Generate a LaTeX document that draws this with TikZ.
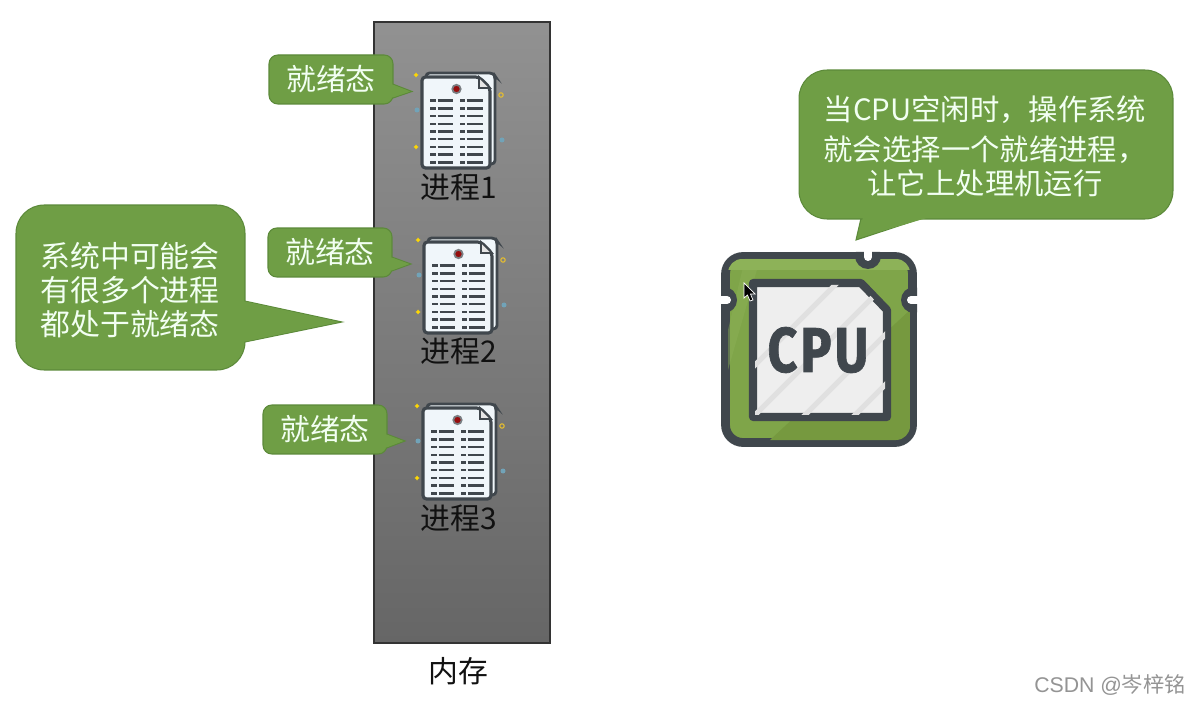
\documentclass[tikz,border=0pt]{standalone}
\usepackage{fontspec}
\setmainfont{Noto Sans CJK SC}
\newfontfamily\chipfont[LetterSpace=6,FakeBold=1.2]{Fira Sans}
\newfontfamily\markfont{Liberation Sans}
\usetikzlibrary{positioning,calc}
\definecolor{BubbleGreen}{HTML}{6F9E45}
\definecolor{BubbleEdge}{HTML}{5C8A3A}
\definecolor{IconDark}{HTML}{40474D}
\definecolor{ChipGreen}{HTML}{7FA549}
\definecolor{ChipShade}{HTML}{76993F}
\definecolor{ChipLight}{HTML}{8DB258}
\definecolor{ChipFace}{HTML}{EEEEEE}
\definecolor{ChipStripe}{HTML}{E0E0E0}
\definecolor{SheetBlue}{HTML}{F0F6FA}
\definecolor{LabelDark}{HTML}{111111}
\tikzset{
bubble/.style={draw=BubbleEdge, line width=0.6pt, fill=BubbleGreen, rounded corners=5pt, text=white!95!green, font=\fontsize{17}{20}\selectfont, align=center, inner sep=0pt},
bigbubble/.style={bubble, rounded corners=16pt},
tipedge/.style={draw=BubbleEdge, line width=0.6pt, fill=BubbleGreen},
tipfill/.style={fill=BubbleGreen},
proclabel/.style={text=LabelDark, font=\fontsize{17}{20}\selectfont, inner sep=0pt},
membar/.style={draw=black!80, line width=0.7pt, top color=black!43, bottom color=black!60, minimum width=3.52cm, minimum height=12.42cm, inner sep=0pt},
docicon/.pic={
  \fill[yellow!75!orange] (-6,4.5) -- (-5,3) -- (-3.5,2) -- (-5,1) -- (-6,-0.5) -- (-7,1) -- (-8.5,2) -- (-7,3) -- cycle;
  \fill[yellow!75!orange] (-6,76.5) -- (-5,75) -- (-3.5,74) -- (-5,73) -- (-6,71.5) -- (-7,73) -- (-8.5,74) -- (-7,75) -- cycle;
  \draw[yellow!60!orange!80!gray, line width=0.6pt] (79,22) circle (2.2);
  \fill[cyan!40!gray] (-5,37) circle (2.5);
  \fill[cyan!40!gray] (80,67) circle (2.5);
  \draw[IconDark, line width=1.6pt, fill=SheetBlue, rounded corners=2pt] (4,0) -- (71,0) -- (73,3) -- (73,91) -- (4,91) -- cycle;
  \draw[IconDark, line width=1.8pt, fill=SheetBlue, rounded corners=2pt] (0,4) -- (57,4) -- (68,15) -- (68,95) -- (0,95) -- cycle;
  \draw[IconDark, line width=0.9pt, fill=white!80!gray] (57,4) -- (57,15) -- (68,15) -- cycle;
  \draw[IconDark!70, line width=1pt, fill=red!60!black!90!gray] (34.5,16) circle (4.2);
  \foreach \row in {0,...,8} {
    \draw[IconDark, line width=1.4pt] (8,27.7+7.7*\row) -- (14,27.7+7.7*\row) (15.5,27.7+7.7*\row) -- (31,27.7+7.7*\row)
      (38,27.7+7.7*\row) -- (43,27.7+7.7*\row) (44.5,27.7+7.7*\row) -- (61,27.7+7.7*\row);
  }
}
}
\begin{document}
\begin{tikzpicture}[x=0.02cm, y=-0.02cm]
\useasboundingbox[fill=white] (0,0) rectangle (1189,705);
% memory
\node[membar] (mem) at (462,332.5) {};
\node[proclabel] (memlabel) at (458,671) {内存};
% processes
\pic at (422,73) {docicon};
\pic at (424,238) {docicon};
\pic at (423,404) {docicon};
\node[proclabel] (proc1) at (458.5,187) {进程1};
\node[proclabel] (proc2) at (458.5,351) {进程2};
\node[proclabel] (proc3) at (458.5,518) {进程3};
% small bubbles
\draw[tipedge] (390,83) -- (412,91.5) -- (390,99) -- cycle;
\draw[tipedge] (389,256) -- (411,264) -- (389,272) -- cycle;
\draw[tipedge] (384,433) -- (405,441) -- (384,449) -- cycle;
\node[bubble, minimum width=2.48cm, minimum height=0.98cm] (ready1) at (331,79.5) {就绪态};
\node[bubble, minimum width=2.48cm, minimum height=0.98cm] (ready2) at (330,252.5) {就绪态};
\node[bubble, minimum width=2.48cm, minimum height=0.98cm] (ready3) at (325,429.5) {就绪态};
\fill[tipfill] (391,84) -- (410,91.5) -- (391,98) -- cycle;
\fill[tipfill] (390,257) -- (409,264) -- (390,271) -- cycle;
\fill[tipfill] (385,434) -- (403,441) -- (385,448) -- cycle;
% big bubbles
\draw[tipedge] (240,300) -- (342,322) -- (240,343) -- cycle;
\node[bigbubble, minimum width=4.58cm, minimum height=3.3cm] (manynote) at (130.5,287.5) {};
\fill[tipfill] (243,301) -- (339,322) -- (243,342) -- cycle;
\node[bubble, draw=none, fill=none, rounded corners=0pt] (manytext) at (130,290) {系统中可能会\\[-0.5pt]有很多个进程\\[-0.5pt]都处于就绪态};
\draw[tipedge] (862,214) -- (856,240) -- (935,214) -- cycle;
\node[bigbubble, minimum width=7.48cm, minimum height=2.98cm] (cpunote) at (986,144.5) {};
\fill[tipfill] (863,217) -- (858,238) -- (930,217) -- cycle;
\node[bubble, draw=none, fill=none, rounded corners=0pt, font=\fontsize{16.7}{20}\selectfont] (cputext) at (985,146) {当CPU空闲时，操作系统\\[3pt]就会选择一个就绪进程，\\[-1pt]让它上处理机运行};
% cpu chip
\draw[IconDark, line width=5pt, fill=ChipGreen, rounded corners=10pt] (725.5,256.5) rectangle (912.5,442.5);
\begin{scope}
\clip[rounded corners=8pt] (728,259) rectangle (910,440);
\fill[ChipLight] (728,259) rectangle (910,270);
\fill[ChipShade] (770,440) -- (910,310) -- (910,440) -- cycle;
\fill[ChipLight, opacity=0.45] (728,330) -- (745,259) -- (760,259) -- (728,370) -- cycle;
\end{scope}
\begin{scope}
\clip[rounded corners=10pt] (721,252) rectangle (917,447);
\fill[IconDark] (868,256) circle (13);
\fill[IconDark] (724,300) circle (13);
\fill[IconDark] (914,300) circle (13);
\end{scope}
\fill[white] (864,246) rectangle (872,257);
\fill[white] (868,257) circle (4);
\fill[white] (715,296) rectangle (727,304);
\fill[white] (727,300) circle (4);
\fill[white] (911,296) rectangle (923,304);
\fill[white] (911,300) circle (4);
\draw[IconDark, line width=4.6pt, fill=ChipFace, line join=round] (753,283) -- (861,283) -- (887,310) -- (887,417) -- (753,417) -- cycle;
\begin{scope}
\clip (755,285) -- (860,285) -- (885,311) -- (885,415) -- (755,415) -- cycle;
\foreach \shift in {0,50,100,150,200} {
  \draw[ChipStripe, line width=3pt] (700+\shift,420) -- (840+\shift,280);
}
\end{scope}
\node[text=IconDark, inner sep=0pt, xscale=0.82, transform shape, font=\chipfont\bfseries\fontsize{36}{36}\selectfont] (cpulabel) at (818,350) {CPU};
% mouse pointer
\draw[white, line width=0.4pt, fill=black] (744,283) -- (744,298) -- (747.5,295) -- (750,301) -- (753,300) -- (750.5,294) -- (755,294) -- cycle;
% watermark
\node[text=black!42, inner sep=0pt, font=\markfont\fontsize{12.1}{14}\selectfont] (csdnmark) at (1110,685) {CSDN @\fontspec{Noto Sans CJK SC}岑梓铭};
\end{tikzpicture}
\end{document}
